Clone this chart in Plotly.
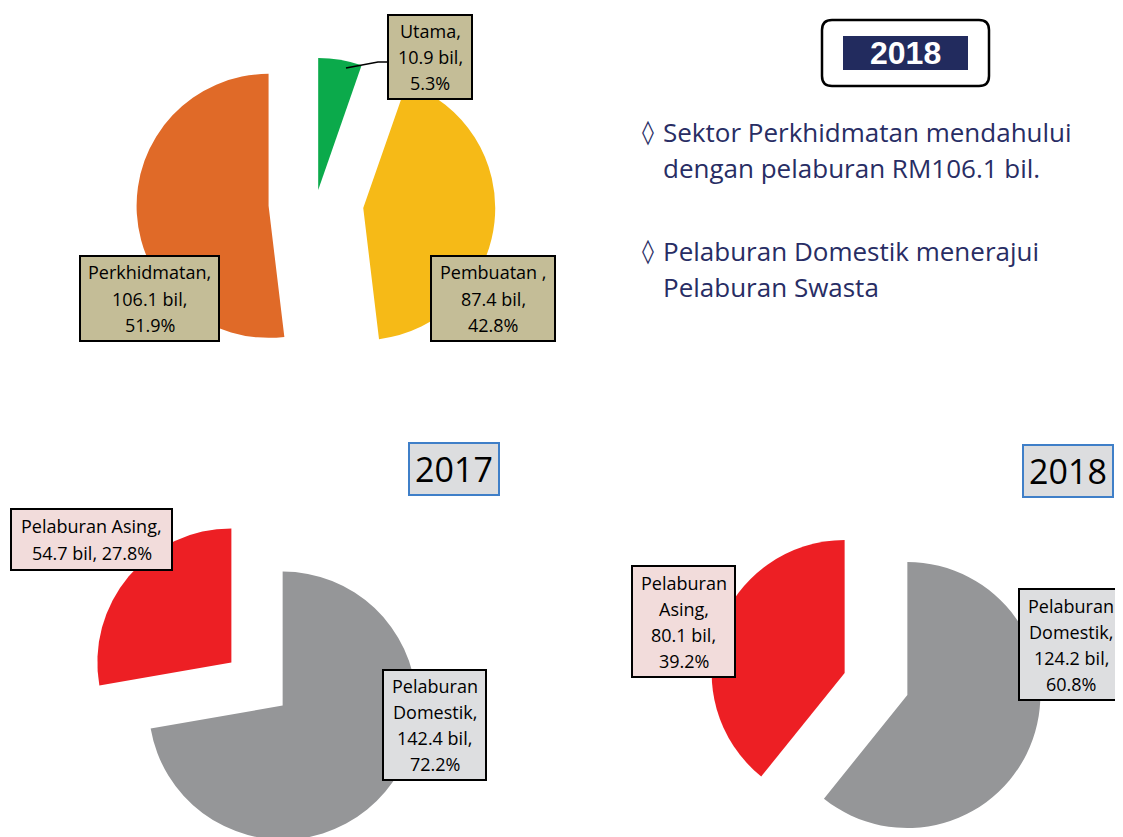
import plotly.graph_objects as go

# ---------------- data ----------------
sector_labels = ["Utama", "Pembuatan", "Perkhidmatan"]
sector_values = [10.9, 87.4, 106.1]
sector_pct = [5.3, 42.8, 51.9]
sector_colors = ["#0BAA4B", "#F6BA17", "#E06A28"]

inv_labels = ["Pelaburan Domestik", "Pelaburan Asing"]
inv_2017 = [142.4, 54.7]
pct_2017 = [72.2, 27.8]
inv_2018 = [124.2, 80.1]
pct_2018 = [60.8, 39.2]
inv_colors = ["#959698", "#ED1F24"]

years = ["2017", "2018"]
bullets = [["Sektor Perkhidmatan mendahului", "dengan pelaburan RM106.1 bil."],
           ["Pelaburan Domestik menerajui", "Pelaburan Swasta"]]

# page body has an 8px margin: the figure starts at (8, 8) of the window
OX, OY = 8, 8
FW, FH = 1115, 860
NAVY = "#282D64"


def px(x):
    return (x - OX) / FW


def py(y):
    return 1 - (y - OY) / FH


def dom(cx, cy, half):
    return dict(x=[px(cx - half), px(cx + half)], y=[py(cy + half), py(cy - half)])


fig = go.Figure()

# top pie (sectors 2018)
fig.add_trace(go.Pie(
    labels=sector_labels, values=sector_values, sort=False, direction="clockwise",
    rotation=0, pull=[0.1, 0.36, 0.36], marker=dict(colors=sector_colors, line=dict(width=0)),
    textinfo="none", hoverinfo="label+value+percent", domain=dom(316, 203, 179.5),
    showlegend=False))

# 2017 investment pie
fig.add_trace(go.Pie(
    labels=inv_labels, values=inv_2017, sort=False, direction="clockwise", rotation=0,
    pull=[0.25, 0.25], marker=dict(colors=inv_colors, line=dict(width=0)),
    textinfo="none", hoverinfo="label+value+percent", domain=dom(257, 684, 167.5),
    showlegend=False))

# 2018 investment pie
fig.add_trace(go.Pie(
    labels=inv_labels, values=inv_2018, sort=False, direction="clockwise", rotation=0,
    pull=[0.25, 0.25], marker=dict(colors=inv_colors, line=dict(width=0)),
    textinfo="none", hoverinfo="label+value+percent", domain=dom(876, 684, 166.25),
    showlegend=False))

annotations = []
shapes = []


def label_box(lines, cx, cy, bw, bh, fill, lh=26, size=18):
    shapes.append(dict(type="rect", xref="paper", yref="paper",
                       x0=px(cx - bw / 2 + 1), x1=px(cx + bw / 2 - 1),
                       y0=py(cy + bh / 2 - 1), y1=py(cy - bh / 2 + 1),
                       line=dict(color="#000000", width=2), fillcolor=fill))
    n = len(lines)
    for i, t in enumerate(lines):
        yy = cy + (i - (n - 1) / 2) * lh
        annotations.append(dict(
            text=t, x=px(cx), y=py(yy), xref="paper", yref="paper", xanchor="center",
            yanchor="middle", showarrow=False,
            font=dict(family="Open Sans", size=size, color="#000000")))


TAN = "#C4BD97"
label_box([f"{sector_labels[0]},", f"{sector_values[0]} bil,", f"{sector_pct[0]}%"],
          430, 57, 86, 86, TAN)
label_box([f"{sector_labels[2]},", f"{sector_values[2]} bil,", f"{sector_pct[2]}%"],
          149.5, 298.5, 141, 87, TAN)
label_box([f"{sector_labels[1]} ,", f"{sector_values[1]} bil,", f"{sector_pct[1]}%"],
          493, 298.5, 126, 87, TAN)

PINK = "#F2DCDB"
LGRAY = "#DDDEE0"
label_box([f"{inv_labels[1]},", f"{inv_2017[1]} bil, {pct_2017[1]}%"],
          91.5, 539.5, 163, 63, PINK, lh=27)
label_box(["Pelaburan", "Domestik,", f"{inv_2017[0]} bil,", f"{pct_2017[0]}%"],
          434.5, 725, 105, 112, LGRAY)
label_box(["Pelaburan", "Asing,", f"{inv_2018[1]} bil,", f"{pct_2018[1]}%"],
          683.5, 621.5, 105, 113, PINK)
label_box(["Pelaburan", "Domestik,", f"{inv_2018[0]} bil,", f"{pct_2018[0]}%"],
          1071, 644.5, 106, 113, LGRAY)

# Utama leader line
shapes.append(dict(type="path", xref="paper", yref="paper",
                   path=f"M {px(346)},{py(68)} L {px(378)},{py(62)} L {px(387)},{py(62)}",
                   line=dict(color="#000000", width=1.5)))

# year boxes above the investment pies
for yr, cx, cy in [(years[0], 454, 469), (years[1], 1068, 471)]:
    annotations.append(dict(
        text=yr, x=px(cx), y=py(cy), xref="paper", yref="paper", xanchor="center",
        yanchor="middle", showarrow=False, bgcolor="#DCDDDF", bordercolor="#3F7FC8",
        borderwidth=2, borderpad=0, width=88, height=50,
        font=dict(family="Open Sans", size=34, color="#000000")))

# header rounded box "2018"
x0, x1, y0, y1, rr = 822, 989, 20, 86, 10
path = (f"M {px(x0 + rr)},{py(y0)} L {px(x1 - rr)},{py(y0)} Q {px(x1)},{py(y0)} {px(x1)},{py(y0 + rr)} "
        f"L {px(x1)},{py(y1 - rr)} Q {px(x1)},{py(y1)} {px(x1 - rr)},{py(y1)} "
        f"L {px(x0 + rr)},{py(y1)} Q {px(x0)},{py(y1)} {px(x0)},{py(y1 - rr)} "
        f"L {px(x0)},{py(y0 + rr)} Q {px(x0)},{py(y0)} {px(x0 + rr)},{py(y0)} Z")
shapes.append(dict(type="path", xref="paper", yref="paper", path=path,
                   line=dict(color="#000000", width=2.5), fillcolor="rgba(0,0,0,0)"))
shapes.append(dict(type="rect", xref="paper", yref="paper", x0=px(843), x1=px(968),
                   y0=py(70), y1=py(36), line=dict(width=0), fillcolor="#222B5E"))
annotations.append(dict(text="<b>2018</b>", x=px(905.5), y=py(53), xref="paper", yref="paper",
                        xanchor="center", yanchor="middle", showarrow=False,
                        font=dict(family="Liberation Sans", size=32, color="#FFFFFF")))

# bullet text
line_y = [[132, 168], [251, 287]]
for para, ys in zip(bullets, line_y):
    annotations.append(dict(text="◊", x=px(640), y=py(ys[0]), xref="paper", yref="paper",
                            xanchor="left", yanchor="middle", showarrow=False,
                            font=dict(family="DejaVu Sans", size=24, color=NAVY)))
    for txt, yy in zip(para, ys):
        annotations.append(dict(text=txt, x=px(661), y=py(yy), xref="paper", yref="paper",
                                xanchor="left", yanchor="middle", showarrow=False,
                                font=dict(family="Open Sans", size=26, color=NAVY)))

fig.update_layout(
    width=FW, height=FH, autosize=False, margin=dict(l=0, r=0, t=0, b=0),
    paper_bgcolor="#FFFFFF", plot_bgcolor="#FFFFFF", showlegend=False,
    annotations=annotations, shapes=shapes)

fig.write_html("out.html")
